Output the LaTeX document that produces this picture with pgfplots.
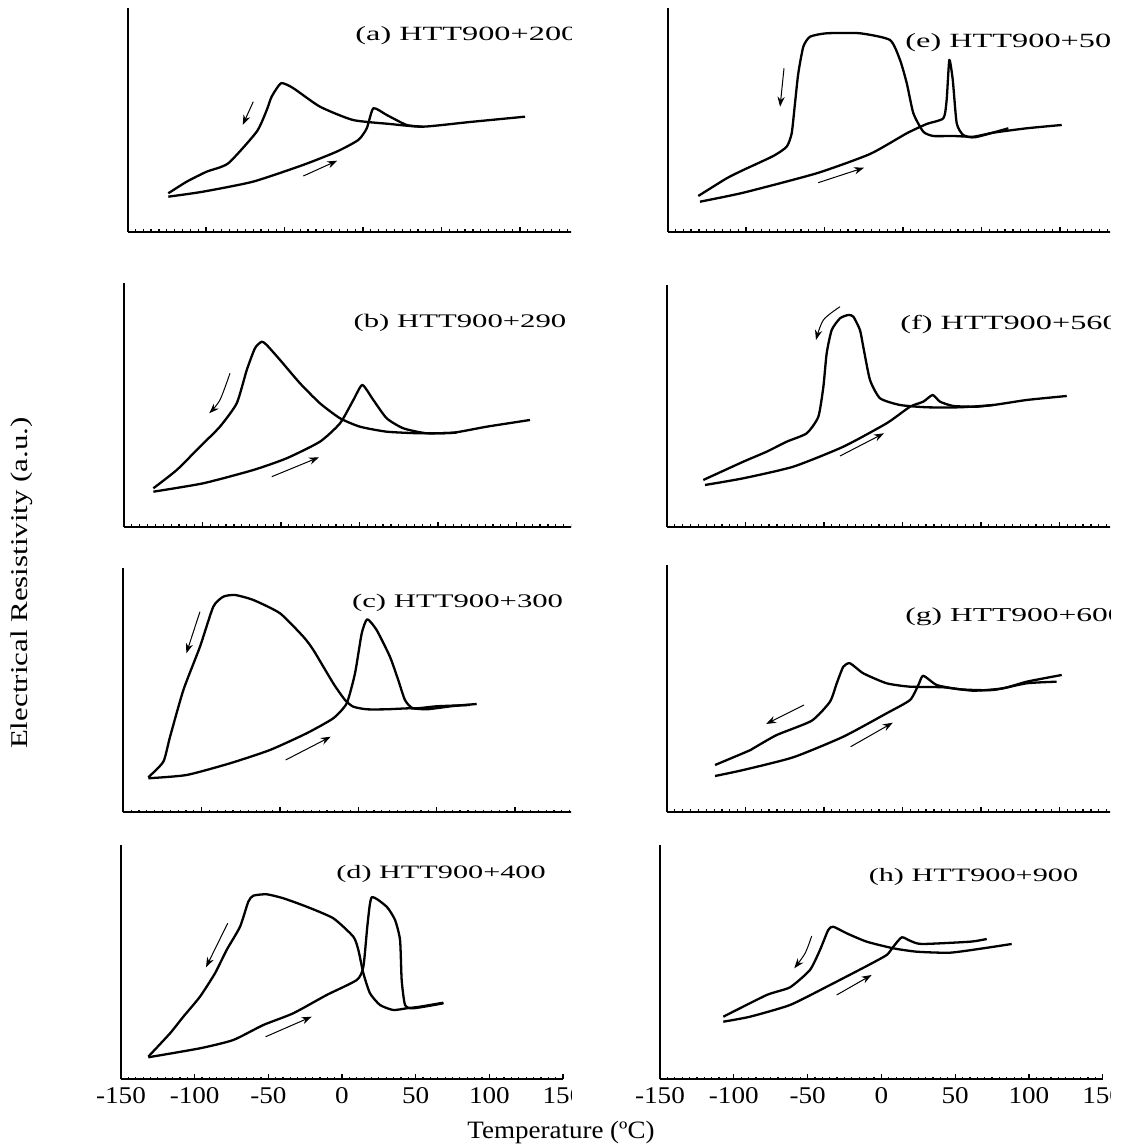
\documentclass[border=0pt]{standalone}
\usepackage{fontspec}
\setmainfont{Liberation Serif}
\newfontfamily\tickfont{Liberation Serif}[FakeStretch=1.13]
\newfontfamily\lblfont{Liberation Serif}[FakeStretch=1.6]
\newfontfamily\axfont{Liberation Serif}[FakeStretch=1.08]
\newfontfamily\ylfont{Liberation Serif}[FakeStretch=1.29]
\usepackage{pgfplots}
\usetikzlibrary{arrows.meta}
\pgfplotsset{compat=1.18}

\pgfplotsset{
  panel/.style={
    scale only axis, axis lines=left,
    axis line style={-, line width=1pt},
    xmin=-150, xmax=150, ymin=0,
    xtick={-150,-100,...,150}, minor x tick num=9,
    ytick=\empty, xticklabels={},
    tick align=inside, major tick length=2.5pt, minor tick length=1.3pt,
    every tick/.append style={black, line width=0.6pt},
    clip=false, anchor=south west,
  },
  bottomrow/.style={
    xticklabels={-150,-100,-50,0,50,100,150},
    xticklabel style={font={\fontsize{12}{14}\tickfont}, yshift=-0.7pt},
  },
  curve/.style={black, line width=1.15pt, no marks, smooth, tension=0.35, line join=round},
  arr/.style={black, line width=0.5pt, no marks, -{Stealth[length=5pt,width=3.6pt]}},
}
\tikzset{lbl/.style={anchor=west, inner sep=0pt, font={\fontsize{9.6}{11}\lblfont}}}

\begin{document}
\begin{tikzpicture}[x=0.5pt, y=0.5pt]
\useasboundingbox (0,0) rectangle (1121,1144);

\begin{scope}
\clip (0,0) rectangle (571,1144);

% (a)
\begin{axis}[panel, at={(63.75pt,456pt)}, width=235.5pt, height=112pt, ymax=224]
  \addplot[curve] coordinates {(103.2,115.3) (68.2,110) (38.2,105.3) (17.2,108) (-6.4,112) (-27.4,125.3) (-44.6,144) (-52.2,148.7) (-58.2,135.3) (-61.3,122) (-67.7,100.3) (-85.8,68.7) (-99.6,60.3) (-112.3,50.3) (-124,38.7)};
  \addplot[curve] coordinates {(-124,35.3) (-101.9,40.3) (-70.1,50.3) (-38.2,67) (-16.8,80.3) (-3,92) (2.4,103.7) (6.6,123.7) (15.1,117) (27.8,107) (38.2,105.3)};
  \addplot[arr] coordinates {(-69.9,130.3) (-76.6,107)};
  \addplot[arr] coordinates {(-38,56) (-16.4,71.3)};
  \node[lbl, font={\fontsize{10.1}{12}\lblfont}] at (axis cs:-5.1,196) {(a) HTT900+200};
\end{axis}

% (b)
\begin{axis}[panel, at={(62pt,308.5pt)}, width=235.5pt, height=122pt, ymax=244]
  \addplot[curve] coordinates {(108.6,107) (81,100.3) (59.7,94.3) (38.5,93.7) (17.3,95.3) (0.3,100.3) (-12.4,108.7) (-25.2,123.7) (-37.9,143.7) (-50.6,167) (-59.1,182) (-62.3,185.3) (-66.6,178.7) (-71.8,157) (-78.2,123.7) (-88.9,100.3) (-101.6,80.3) (-116.4,57) (-131.3,38.7)};
  \addplot[curve] coordinates {(-131.3,35.3) (-99.5,43.7) (-67.6,57) (-46.4,68.7) (-25.2,85.3) (-12.4,103.7) (-3.9,127) (1.8,142) (8.8,127) (17.3,108.7) (27.9,98.7) (42.8,93.7) (61.9,94.3)};
  \addplot[arr, smooth] coordinates {(-82.5,153.7) (-88.9,127) (-95.7,113.7)};
  \addplot[arr] coordinates {(-55.9,50.3) (-25.8,69.7)};
  \node[lbl] at (axis cs:-4,203.7) {(b) HTT900+290};
\end{axis}

% (c)
\begin{axis}[panel, at={(61.7pt,165.85pt)}, width=234.9pt, height=122pt, ymax=244]
  \addplot[curve] coordinates {(75.6,108.3) (60.7,106.3) (43.7,103) (33,104) (18.1,103) (5.4,103) (-3.2,105.6) (-8.5,112.3) (-16,129) (-28.7,162.3) (-35.1,175.6) (-50,199) (-67,212.3) (-78.7,217.3) (-86.2,215.6) (-92.6,205.6) (-101.1,165.6) (-111.7,122.3) (-120.2,75.6) (-124.5,50.6) (-134.1,35)};
  \addplot[curve] coordinates {(-134.1,34) (-109.6,37.3) (-81.9,49) (-56.4,62.3) (-33,79) (-16,94) (-7.4,109) (-2.1,139) (2.2,179) (5.7,193) (11.7,182.3) (20.2,155.6) (25.5,132.3) (29.8,112.3) (35.1,104) (50,106) (71.3,107.3)};
  \addplot[arr] coordinates {(-101.1,200.6) (-109.8,159)};
  \addplot[arr] coordinates {(-46.4,52.3) (-17.6,75.6)};
  \node[lbl] at (axis cs:-4.2,209) {(c) HTT900+300};
\end{axis}

% (d)
\begin{axis}[panel, bottomrow, at={(60.5pt,32.35pt)}, width=221pt, height=117.15pt, ymax=234.3]
  \addplot[curve] coordinates {(68.8,76.6) (52.9,72.6) (43.9,71) (34.8,69.3) (25.8,74.3) (19,86) (14.5,106) (11.1,129.3) (7.7,142.6) (-5.9,161) (-24,172.6) (-39.8,181) (-51.1,185) (-60.2,183.6) (-63.6,177.6) (-69.2,152.6) (-78.3,129.3) (-86.2,106) (-96.4,82.6) (-107.7,62.6) (-116.7,46) (-131.5,22.6)};
  \addplot[curve] coordinates {(-131.5,22) (-96.4,31) (-73.8,39.3) (-53.4,54.3) (-33.1,66) (-10.4,84.3) (10,99.3) (14.5,112.6) (17.4,156) (20.2,182) (30.3,172.6) (36,159.3) (39.4,139.3) (40.5,99.3) (42.8,74.3) (48.4,71) (68.8,76)};
  \addplot[arr] coordinates {(-77.6,156) (-92.3,112)};
  \addplot[arr] coordinates {(-51.8,42.6) (-20.6,62.6)};
  \node[lbl, font={\fontsize{9.45}{11}\lblfont}] at (axis cs:-4.1,205.3) {(d) HTT900+400};
\end{axis}
\end{scope}

\begin{scope}
\clip (571,0) rectangle (1110,1144);

% (e)
\begin{axis}[panel, at={(333.75pt,456pt)}, width=235.5pt, height=112pt, ymax=224]
  \addplot[curve] coordinates {(101.1,107) (78.8,103.7) (57.5,99.3) (44.8,95.3) (32,96) (19.3,96) (12.9,100.3) (6.6,118.7) (2.4,148.7) (-1.9,172) (-8.3,192) (-27.4,198.7) (-48.6,198.7) (-59.2,195.3) (-63.5,185.3) (-66.7,158.7) (-68.8,128.7) (-70.9,98.7) (-74.1,85.3) (-82.6,76) (-101.7,62) (-112.3,53.7) (-130.4,36)};
  \addplot[curve] coordinates {(-129.3,30.3) (-101.7,39.3) (-55,58.7) (-21,78) (2.4,98.7) (15.1,108) (25.7,113.7) (27.8,132) (29.5,172) (31.7,152) (34.2,108.7) (38.4,97) (45.9,94.7) (67.1,103.7)};
  \addplot[arr] coordinates {(-75.8,163.7) (-78.3,125.3)};
  \addplot[arr] coordinates {(-54,49.3) (-24.8,64.3)};
  \node[lbl, font={\fontsize{10.1}{12}\lblfont}] at (axis cs:1.3,189) {(e) HTT900+500};
\end{axis}

% (f)
\begin{axis}[panel, at={(333.5pt,308.5pt)}, width=235.5pt, height=121pt, ymax=242]
  \addplot[curve] coordinates {(104.6,131) (79.1,127) (57.8,122) (36.6,119.7) (15.4,119.7) (-1.6,122) (-14.3,128.7) (-20.7,147) (-25,180.3) (-27.1,197) (-31.3,210.3) (-34.5,212) (-39.8,208.7) (-45.1,197) (-48.3,173.7) (-50.4,140.3) (-53.6,110.3) (-61,93.7) (-73.8,85.3) (-86.5,75.3) (-101.4,65.3) (-126.9,47)};
  \addplot[curve] coordinates {(-125.8,42) (-101.4,48.7) (-69.6,60.3) (-37.7,80.3) (-10.1,103.7) (4.8,120.3) (13.2,125.3) (19.2,132) (23.9,125.3) (32.4,121) (47.3,120.3) (57.8,122)};
  \addplot[arr, smooth] coordinates {(-39.8,220.3) (-50.4,207) (-55.1,187)};
  \addplot[arr] coordinates {(-39.8,71) (-11.8,93.7)};
  \node[lbl, font={\fontsize{10.1}{12}\lblfont}] at (axis cs:-1.6,202) {(f) HTT900+560};
\end{axis}

% (g)
\begin{axis}[panel, at={(333.5pt,166pt)}, width=235.5pt, height=123.5pt, ymax=247]
  \addplot[curve] coordinates {(101.4,137) (79.1,130.3) (64.2,123.7) (45.1,121.3) (26,124.7) (4.8,125.3) (-10.1,128.7) (-25,138.7) (-33.4,148.7) (-37.7,145.3) (-41.9,128.7) (-46.2,110.3) (-57.8,91.3) (-80.1,77) (-95,63.7) (-98.2,61) (-119.4,47)};
  \addplot[curve] coordinates {(-119.4,36) (-101.4,42) (-69.6,54.7) (-37.7,75.3) (-10.1,98.7) (4.8,112) (10.1,127) (13.2,136.3) (21.8,127) (36.6,122.7) (57.8,122) (79.1,128.7) (98.2,130.3)};
  \addplot[arr] coordinates {(-62.7,107) (-86.9,88)};
  \addplot[arr] coordinates {(-33,65.3) (-6.2,89.3)};
  \node[lbl, font={\fontsize{9.85}{12}\lblfont}] at (axis cs:1.6,195.3) {(g) HTT900+600};
\end{axis}

% (h)
\begin{axis}[panel, bottomrow, at={(330pt,32.35pt)}, width=221.35pt, height=117.15pt, ymax=234.3]
  \addplot[curve] coordinates {(88.3,135.3) (69.1,131) (46.5,126.6) (24,127.6) (8.1,131) (-9.9,137.6) (-23.5,146) (-32.6,152.6) (-36,149.3) (-41.6,129.3) (-48.4,109.3) (-61.9,92) (-77.7,84.3) (-107.1,62.6)};
  \addplot[curve] coordinates {(-107.1,57.6) (-89,62.6) (-61.9,74.3) (-37,92.6) (-9.9,113.3) (3.6,124.3) (8.1,132.6) (13.8,142) (19.4,138.6) (27.3,135.3) (60.1,137.6) (71.4,140.3)};
  \addplot[arr, smooth] coordinates {(-47.2,143.3) (-51.7,126) (-59,111)};
  \addplot[arr] coordinates {(-30.3,84.3) (-6.6,104.3)};
  \node[lbl, font={\fontsize{9.45}{11}\lblfont}] at (axis cs:-8.8,202.6) {(h) HTT900+900};
\end{axis}
\end{scope}

\node[font={\fontsize{12.5}{14}\axfont}] at (561,12) {Temperature (ºC)};
\node[font={\fontsize{12}{14}\ylfont}, rotate=90] at (22,561) {Electrical Resistivity (a.u.)};
\end{tikzpicture}
\end{document}
